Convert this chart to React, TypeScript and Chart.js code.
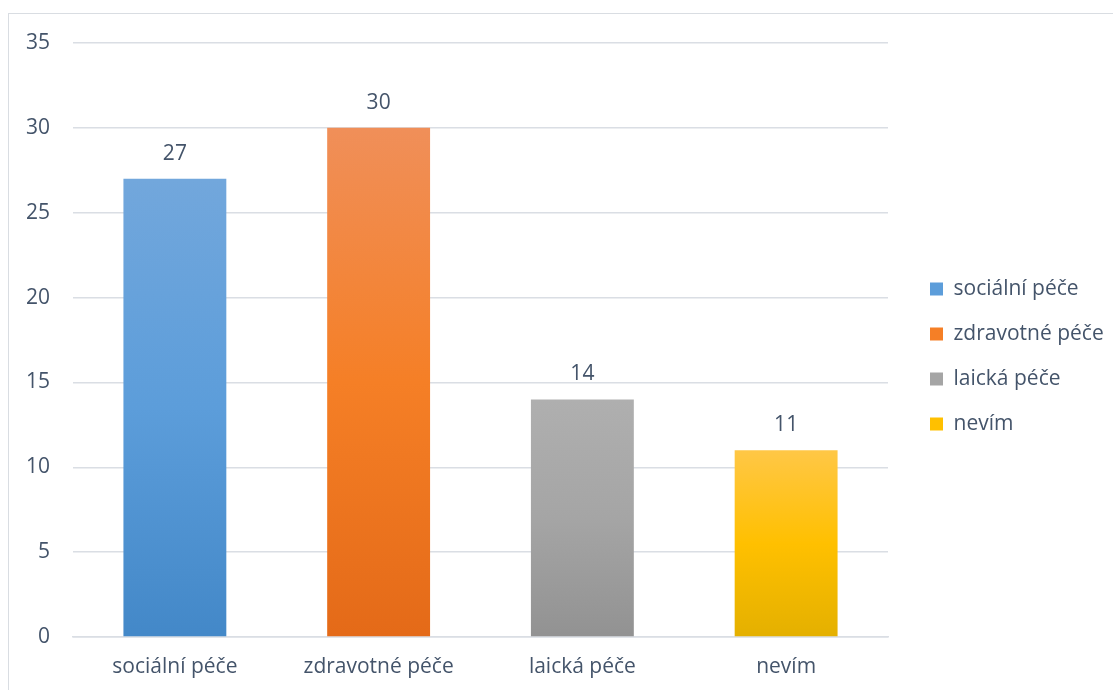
import React, { useEffect, useRef } from "react";
import { Chart, registerables } from "chart.js";

Chart.register(...registerables);

const categories = ["sociální péče", "zdravotné péče", "laická péče", "nevím"];
const values = [27, 30, 14, 11];
const yTicks = [0, 5, 10, 15, 20, 25, 30, 35];
const gradientTop = ["#72A7DC", "#F08F59", "#AFAFAF", "#FFC746"];
const gradientMid = ["#5C9DDA", "#F57F26", "#A5A5A5", "#FFC000"];
const gradientBottom = ["#4388C8", "#E46A18", "#929292", "#E4B000"];

const TEXT = "#44546A";
const GRID = "#DADEE4";
const FONT = "'Open Sans', sans-serif";

const dataLabels = {
  id: "dataLabels",
  afterDatasetsDraw(chart: any) {
    const ctx = chart.ctx;
    const meta = chart.getDatasetMeta(0);
    ctx.save();
    ctx.font = `21px ${FONT}`;
    ctx.fillStyle = TEXT;
    ctx.textAlign = "center";
    ctx.textBaseline = "middle";
    meta.data.forEach((bar: any, i: number) => {
      ctx.fillText(String(values[i]), bar.x, bar.y - 25);
    });
    ctx.restore();
  },
};

export default function App() {
  const ref = useRef<HTMLCanvasElement>(null);
  useEffect(() => {
    if (!ref.current) return;
    const chart = new Chart(ref.current, {
      type: "bar",
      data: {
        labels: categories,
        datasets: [
          {
            label: "data",
            data: values,
            backgroundColor: (c: any) => {
              const i = c.dataIndex ?? 0;
              const chartObj = c.chart;
              if (c.type !== "data" || !chartObj.chartArea || !chartObj.scales.y) return gradientMid[i];
              const ys = chartObj.scales.y;
              const top = ys.getPixelForValue(values[i]);
              const bottom = ys.getPixelForValue(0);
              if (!isFinite(top) || !isFinite(bottom) || top === bottom) return gradientMid[i];
              const g = chartObj.ctx.createLinearGradient(0, top, 0, bottom);
              g.addColorStop(0, gradientTop[i]);
              g.addColorStop(0.5, gradientMid[i]);
              g.addColorStop(1, gradientBottom[i]);
              return g;
            },
            borderWidth: 0,
            categoryPercentage: 1,
            barPercentage: 0.505,
          },
        ],
      },
      options: {
        animation: false,
        responsive: false,
        layout: { padding: { left: 0, top: 29, right: 7, bottom: 0 } },
        plugins: {
          tooltip: { enabled: false },
          legend: {
            position: "right",
            fullSize: false,
            maxWidth: 200,
            title: {
              display: true,
              text: " ",
              font: { size: 20, family: FONT },
              padding: { top: 5, bottom: 4 },
            },
            labels: {
              boxWidth: 13,
              boxHeight: 13,
              padding: 24,
              color: TEXT,
              font: { size: 21, family: FONT },
              generateLabels: () =>
                categories.map((c, i) => ({
                  text: c,
                  fillStyle: gradientMid[i],
                  strokeStyle: gradientMid[i],
                  lineWidth: 0,
                  hidden: false,
                  index: i,
                  fontColor: TEXT,
                })),
            },
          },
        },
        scales: {
          x: {
            grid: { display: false, drawTicks: false },
            border: { display: true, color: GRID, width: 1.5 },
            ticks: { color: TEXT, font: { size: 21, family: FONT }, padding: 17, maxRotation: 0 },
            afterFit: (s: any) => {
              s.height = 61;
            },
          },
          y: {
            min: 0,
            max: 35,
            afterBuildTicks: (s: any) => {
              s.ticks = yTicks.map((v) => ({ value: v }));
            },
            grid: { color: GRID, lineWidth: 1.5, drawTicks: true, tickLength: 18, tickColor: "rgba(0,0,0,0)" },
            border: { display: false },
            ticks: { color: TEXT, font: { size: 21, family: FONT }, padding: 5 },
            afterFit: (s: any) => {
              s.width = 64;
            },
          },
          y2: {
            position: "right",
            display: true,
            grid: { display: false, drawTicks: false },
            border: { display: false },
            ticks: { display: false },
            afterFit: (s: any) => {
              s.width = 18;
            },
          },
        },
      },
      plugins: [dataLabels],
    } as any);
    return () => chart.destroy();
  }, []);
  return (
    <div
      style={{
        position: "absolute",
        left: 8,
        top: 13,
        width: 1112,
        height: 684,
        border: "1px solid #D9DDE2",
        background: "#fff",
      }}
    >
      <canvas ref={ref} width={1104} height={684} style={{ display: "block" }} />
    </div>
  );
}
